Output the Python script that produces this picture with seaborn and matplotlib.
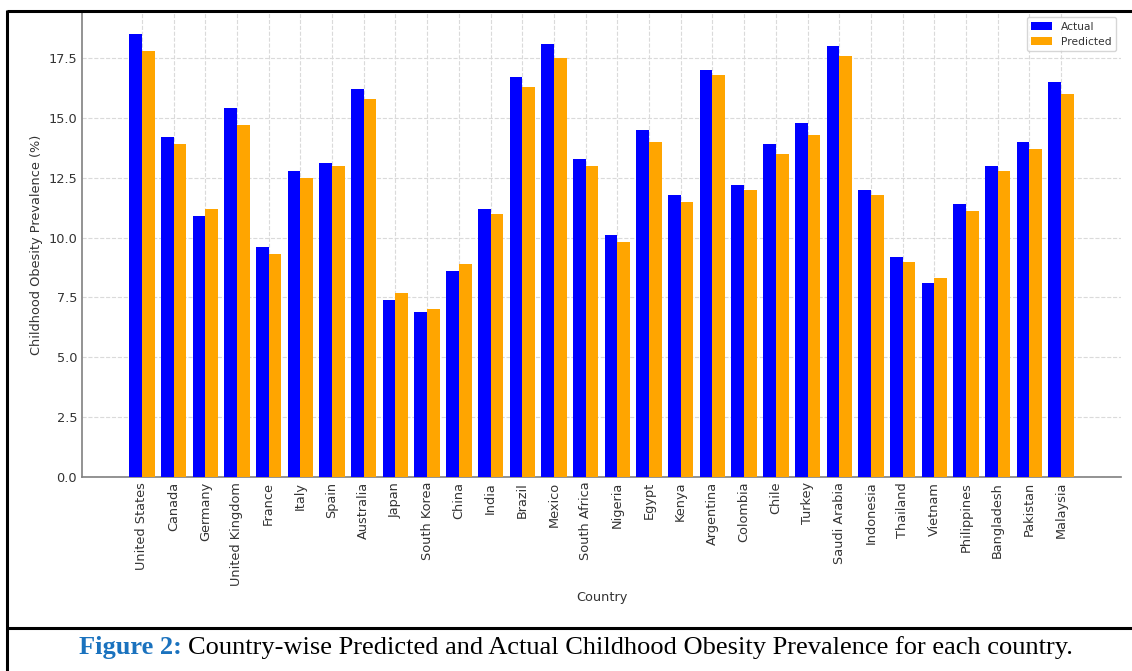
import matplotlib

matplotlib.use("Agg")

import matplotlib.pyplot as plt
import pandas as pd
import seaborn as sns
from matplotlib.lines import Line2D

countries = [
    "United States", "Canada", "Germany", "United Kingdom", "France", "Italy",
    "Spain", "Australia", "Japan", "South Korea", "China", "India", "Brazil",
    "Mexico", "South Africa", "Nigeria", "Egypt", "Kenya", "Argentina",
    "Colombia", "Chile", "Turkey", "Saudi Arabia", "Indonesia", "Thailand",
    "Vietnam", "Philippines", "Bangladesh", "Pakistan", "Malaysia",
]
actual = [
    18.5, 14.2, 10.9, 15.4, 9.6, 12.8, 13.1, 16.2, 7.4, 6.9, 8.6, 11.2, 16.7,
    18.1, 13.3, 10.1, 14.5, 11.8, 17.0, 12.2, 13.9, 14.8, 18.0, 12.0, 9.2,
    8.1, 11.4, 13.0, 14.0, 16.5,
]
predicted = [
    17.8, 13.9, 11.2, 14.7, 9.3, 12.5, 13.0, 15.8, 7.7, 7.0, 8.9, 11.0, 16.3,
    17.5, 13.0, 9.8, 14.0, 11.5, 16.8, 12.0, 13.5, 14.3, 17.6, 11.8, 9.0,
    8.3, 11.1, 12.8, 13.7, 16.0,
]
series = ["Actual", "Predicted"]
colors = ["blue", "orange"]
caption_head = "Figure 2:"
caption_body = "Country-wise Predicted and Actual Childhood Obesity Prevalence for each country."

df = pd.DataFrame({
    "Country": countries * 2,
    "Prevalence": actual + predicted,
    "Series": [series[0]] * len(countries) + [series[1]] * len(countries),
})

sns.set_theme(style="white")
plt.rcParams["font.family"] = ["DejaVu Sans"]

W, H = 1132, 671
fig = plt.figure(figsize=(W / 100, H / 100), dpi=100)
ax = fig.add_axes([82 / W, 1 - 477 / H, (1121 - 82) / W, (477 - 12) / H])

sns.barplot(
    data=df, x="Country", y="Prevalence", hue="Series",
    palette=colors, saturation=1, width=0.8, linewidth=0, ax=ax, zorder=3,
)

# seaborn pins categorical limits; go back to matplotlib's default margins
ax.set_autoscalex_on(True)
ax.margins(x=0.05)
ax.autoscale_view()

ax.grid(True, linestyle="--", color="#dadada", linewidth=0.8, zorder=0)
ax.set_axisbelow(True)
for side in ["top", "right"]:
    ax.spines[side].set_visible(False)
for side in ["left", "bottom"]:
    ax.spines[side].set_color("#808080")
    ax.spines[side].set_linewidth(1.2)

ax.tick_params(axis="both", direction="in", length=3, color="#808080",
               labelsize=9.3, labelcolor="#333333")
ax.tick_params(axis="x", labelrotation=90)
ax.set_xlabel("Country", fontsize=9.3, color="#333333")
ax.set_ylabel("Childhood Obesity Prevalence (%)", fontsize=9.3, color="#333333")

leg = ax.legend(loc="upper right", fontsize=7.7, title=None, frameon=True,
                fancybox=True, framealpha=0.8, borderpad=0.4)
leg.get_frame().set_edgecolor("#cccccc")
for t in leg.get_texts():
    t.set_color("#333333")

# document frame around the figure and caption
lw = 2.2
def px_line(x0, y0, x1, y1):
    fig.add_artist(Line2D([x0 / W, x1 / W], [1 - y0 / H, 1 - y1 / H],
                          transform=fig.transFigure, color="black", lw=lw,
                          solid_capstyle="butt"))

px_line(7, 11, W, 11)
px_line(7, 9.5, 7, H)
px_line(7, 628, W, 628)

# caption: blue bold head + black body, centred as one line
cap_y = 1 - 654 / H
cap_size = 19
t1 = fig.text(0, cap_y, caption_head, fontsize=cap_size, fontweight="bold",
              color="#1a72be", family="Liberation Serif", va="baseline")
t2 = fig.text(0, cap_y, caption_body, fontsize=cap_size, color="black",
              family="Liberation Serif", va="baseline")
fig.canvas.draw()
r = fig.canvas.get_renderer()
w1 = t1.get_window_extent(r).width
w2 = t2.get_window_extent(r).width
gap = cap_size * 100 / 72 * 0.25
total = w1 + gap + w2
start = 576 - total / 2
t1.set_x(start / W)
t2.set_x((start + w1 + gap) / W)

fig.savefig("out.png", dpi=100)
